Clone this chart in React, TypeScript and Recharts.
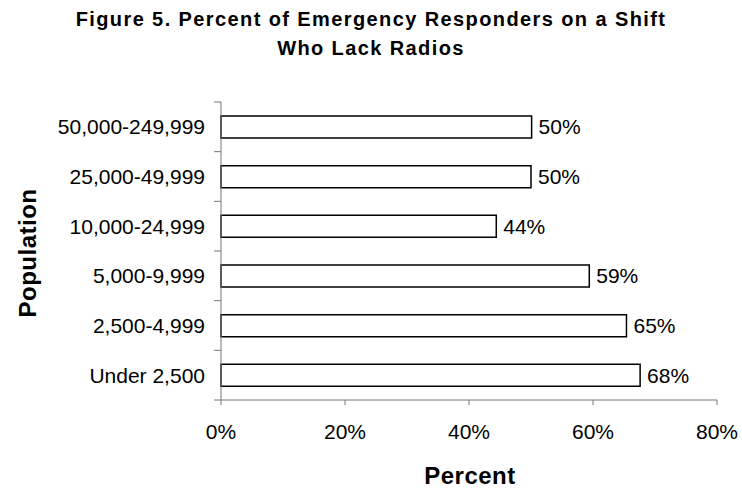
import React from 'react';
import { BarChart, Bar, XAxis, YAxis, LabelList, Label } from 'recharts';

// values, top row first
const populations = [
  '50,000-249,999',
  '25,000-49,999',
  '10,000-24,999',
  '5,000-9,999',
  '2,500-4,999',
  'Under 2,500',
];
const lackRadios = [50.1, 50, 44.4, 59.4, 65.4, 67.6];
const percentTicks = [0, 20, 40, 60, 80];

const data = populations.map((population, i) => ({ population, value: lackRadios[i] }));

const FONT = '"Liberation Sans", Arial, Helvetica, sans-serif';
const AXIS_COLOR = '#777';
const AXIS_X = 221;
const PLOT_TOP = 102;
const PLOT_BOTTOM = 400;
const BAND = (PLOT_BOTTOM - PLOT_TOP) / populations.length;

function PopulationTick(props: any) {
  const { y, payload, index } = props;
  const last = index === populations.length - 1;
  return (
    <g>
      <line x1={AXIS_X - 7} x2={AXIS_X} y1={y - BAND / 2} y2={y - BAND / 2} stroke={AXIS_COLOR} />
      {last && (
        <line x1={AXIS_X - 7} x2={AXIS_X} y1={y + BAND / 2} y2={y + BAND / 2} stroke={AXIS_COLOR} />
      )}
      <text x={AXIS_X - 16} y={y} dy="0.36em" textAnchor="end" fontSize={21} fill="#000" fontFamily={FONT}>
        {payload.value}
      </text>
    </g>
  );
}

export default function App() {
  return (
    <div style={{ position: 'absolute', left: 0, top: 0, width: 742, height: 489, background: '#fff', fontFamily: FONT }}>
      <div
        style={{
          position: 'absolute',
          left: 0,
          top: 4.5,
          width: 742,
          textAlign: 'center',
          fontSize: 20,
          lineHeight: '29px',
          fontWeight: 700,
          letterSpacing: 1.4,
          color: '#000',
        }}
      >
        Figure 5. Percent of Emergency Responders on a Shift
        <br />
        Who Lack Radios
      </div>
      <BarChart
        width={742}
        height={489}
        data={data}
        layout="vertical"
        margin={{ top: PLOT_TOP, right: 25, bottom: 29, left: 0 }}
        barSize={22}
        style={{ position: 'absolute', left: 0, top: 0 }}
      >
        <XAxis
          type="number"
          domain={[0, 80]}
          ticks={percentTicks}
          tickFormatter={(v: number) => `${v}%`}
          stroke={AXIS_COLOR}
          tickSize={5}
          tickMargin={19}
          height={60}
          tick={{ fontSize: 21, fill: '#000', fontFamily: FONT }}
        >
          <Label
            content={() => (
              <text x={470} y={484} textAnchor="middle" fontSize={24} fontWeight={700} letterSpacing={0.5} fill="#000" fontFamily={FONT}>
                Percent
              </text>
            )}
          />
        </XAxis>
        <YAxis
          type="category"
          dataKey="population"
          width={AXIS_X}
          stroke={AXIS_COLOR}
          tickLine={false}
          tick={<PopulationTick />}
          interval={0}
        >
          <Label
            content={() => (
              <text
                x={36}
                y={253}
                transform="rotate(-90 36 253)"
                textAnchor="middle"
                fontSize={24}
                fontWeight={700}
                letterSpacing={0.5}
                fill="#000"
                fontFamily={FONT}
              >
                Population
              </text>
            )}
          />
        </YAxis>
        <Bar dataKey="value" fill="#fff" stroke="#000" strokeWidth={1.5} isAnimationActive={false}>
          <LabelList
            dataKey="value"
            position="right"
            offset={7}
            formatter={(v: any) => `${Math.round(Number(v))}%`}
            style={{ fontSize: 21, fill: '#000', fontFamily: FONT }}
          />
        </Bar>
      </BarChart>
    </div>
  );
}
